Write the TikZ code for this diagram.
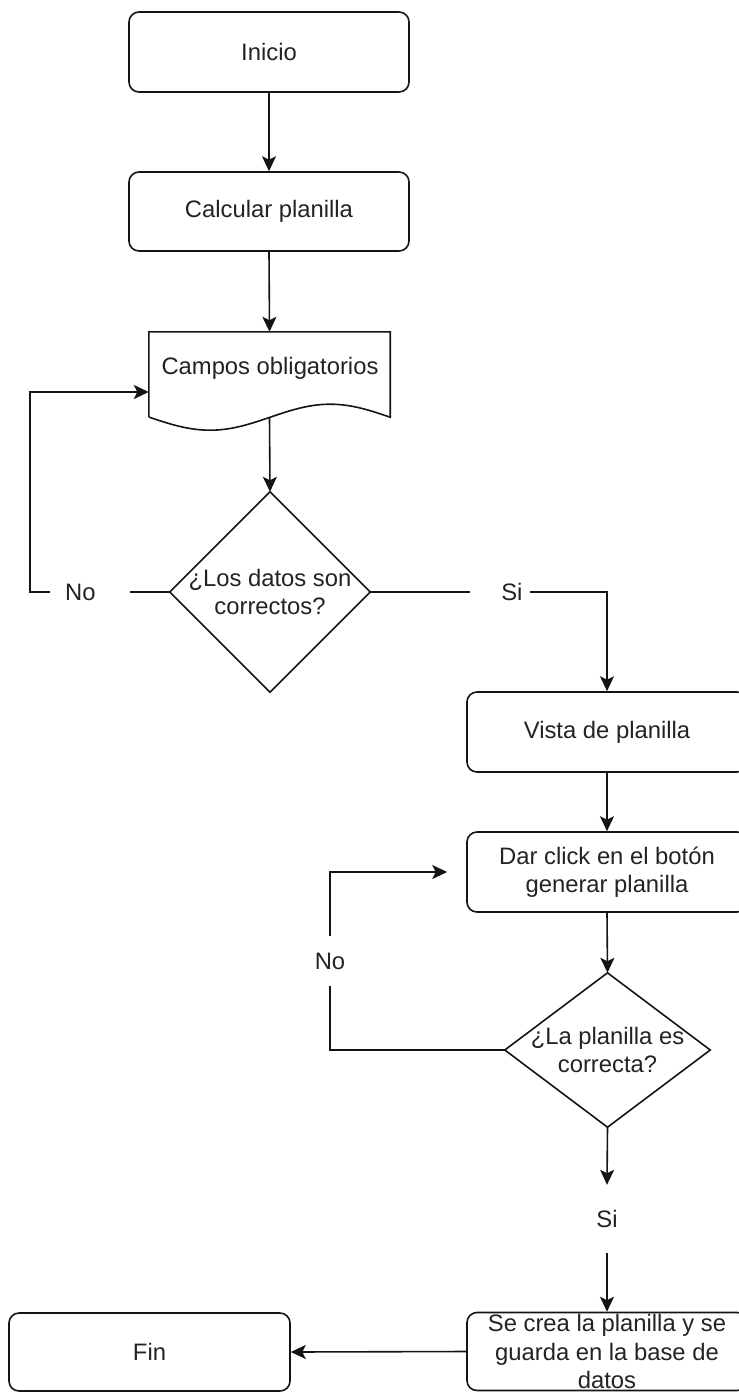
\documentclass[tikz,border=0pt]{standalone}
\usepackage{fontspec}
\setmainfont{Liberation Sans}
\usetikzlibrary{arrows.meta}
\definecolor{linecol}{RGB}{20,20,20}
\definecolor{txtcol}{RGB}{35,35,35}
\begin{document}
\begin{tikzpicture}[x=1pt,y=-1pt,
  font=\fontsize{23.8}{28.5}\selectfont,
  box/.style={draw=linecol, line width=1.6pt, rounded corners=10pt,
    minimum width=280pt, minimum height=80pt, inner sep=0pt,
    align=center, text=txtcol},
  hold/.style={inner sep=0pt, align=center, text=txtcol},
  outline/.style={draw=linecol, line width=1.6pt, line join=miter},
  flow/.style={draw=linecol, line width=1.6pt,
    -{Stealth[length=15pt,width=14pt,inset=3.5pt]}},
  lbl/.style={fill=white, text=txtcol, inner sep=0pt, minimum height=30pt},
]
% page frame
\clip (0,0) rectangle (739,1393);
\fill[white] (0,0) rectangle (739,1393);

% process boxes
\node[box] (inicio) at (269,52) {Inicio};
\node[box, minimum height=79pt] (calc) at (269,211.5) {Calcular planilla};

% document shape with a wavy bottom edge
\node[hold, minimum width=241pt, minimum height=85pt] (campos) at (269.5,374.5) {};
\node[hold] (campostxt) at (270,368) {Campos obligatorios};
\draw[outline] (campos.south west) -- (campos.north west) -- (campos.north east)
  -- (campos.south east) sin ++(-60,-13) cos ++(-60,13) sin ++(-60,13) cos ++(-61,-13);

% first decision
\node[hold, minimum width=200pt, minimum height=200pt] (d1) at (270,592)
  {¿Los datos son\\correctos?};
\draw[outline] (d1.north) -- (d1.east) -- (d1.south) -- (d1.west) -- cycle;

\node[box] (vista) at (607,732) {Vista de planilla};
\node[box] (dar) at (607,872) {Dar click en el botón\\generar planilla};

% second decision
\node[hold, minimum width=205pt, minimum height=154pt] (d2) at (607.5,1050)
  {¿La planilla es\\correcta?};
\draw[outline] (d2.north) -- (d2.east) -- (d2.south) -- (d2.west) -- cycle;

\node[hold, text=txtcol, minimum height=68pt] (si2) at (607,1219) {Si};

\node[box, minimum height=78pt] (guarda) at (607,1351.5)
  {Se crea la planilla y se\\guarda en la base de\\datos};
\node[box, minimum width=281pt, minimum height=78pt] (fin) at (149.5,1352) {Fin};

% bend points of the return loops
\coordinate (turn1) at (30,592);
\coordinate (turn2a) at (330,1050);
\coordinate (turn2b) at (330,872);

% connectors
\draw[flow] (inicio.south) -- (calc.north);
\draw[flow] (calc.south) -- (campos.north);
\draw[flow] (campos.south) -- (d1.north);
\draw[flow] (d1.west) -- node[lbl, pos=0.57, minimum width=80pt,
    text width=50pt, align=left] {No} (turn1)
  |- ([yshift=-17.5pt]campos.west);
\draw[flow] (d1.east) -- node[lbl, pos=0.55, minimum width=60pt,
    text width=44pt, align=right] {Si} (vista.north |- d1.east)
  -- (vista.north);
\draw[flow] (vista.south) -- (dar.north);
\draw[flow] (dar.south) -- (d2.north);
\draw[flow, shorten >=19pt] (d2.west) -- (turn2a)
  -- node[lbl, minimum width=40pt, minimum height=50pt] {No} (turn2b) -- (dar.west);
\draw[flow] (d2.south) -- (si2.north);
\draw[flow] (si2.south) -- (guarda.north);
\draw[flow] (guarda.west) -- (fin.east);
\end{tikzpicture}
\end{document}
